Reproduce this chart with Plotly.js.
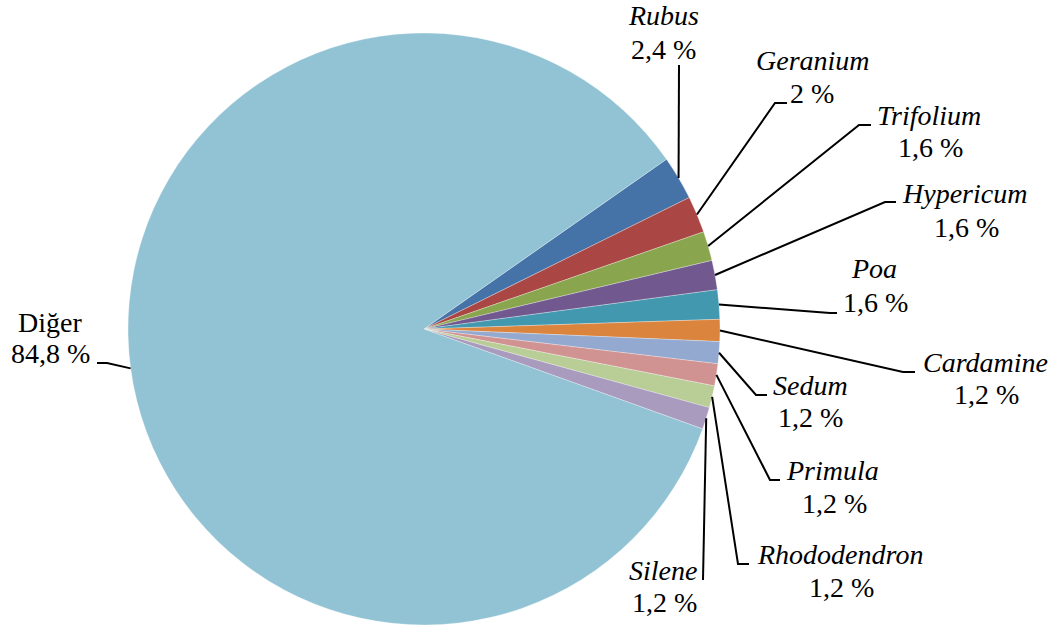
<!DOCTYPE html>
<html>
<head>
<meta charset="utf-8">
<script src="https://cdn.plot.ly/plotly-3.0.1.min.js"></script>
<style>html,body{margin:0;padding:0;background:#fff;}#chart{width:1061px;height:630px;}
#chart text.annotation-text, #chart text.annotation-text tspan{font-family:"Liberation Serif" !important;}
#fontwarm{position:absolute;left:-3000px;top:0;font-family:"Liberation Serif";font-size:28px;white-space:nowrap;}</style>
</head>
<body>
<div id="fontwarm">Diğer 84,8 % <i>Rhododendron</i></div>
<div id="chart"></div>
<script>
// ---- data ----
var labels = ["Rubus", "Geranium", "Trifolium", "Hypericum", "Poa", "Cardamine", "Sedum", "Primula", "Rhododendron", "Silene", "Diğer"];
var values = [2.4, 2, 1.6, 1.6, 1.6, 1.2, 1.2, 1.2, 1.2, 1.2, 84.8];
var italicName = [true, true, true, true, true, true, true, true, true, true, false];

// ---- style / layout (pixel positions of labels and leader elbows) ----
var colors = ["#4572A7", "#AA4643", "#89A54E", "#71588F", "#4198AF", "#DB843D", "#93A9CF", "#D19392", "#B9CD96", "#A99BBD", "#92C3D4"];
var W = 1061, H = 630;
var cx = 424, cy = 329, R = 296;
var rotation = 55;
var fontSize = 28;
var labelLayout = [
  {name: [663, 25],  val: [663, 59],  elbow: [679, 65],  end: [679, 65]},
  {name: [813, 70],  val: [812, 103], elbow: [775, 103], end: [787, 103]},
  {name: [929, 125], val: [930, 157], elbow: [859, 125], end: [871, 125]},
  {name: [964, 203], val: [966, 237], elbow: [885, 202], end: [896, 202]},
  {name: [874, 278], val: [875, 312], elbow: [830, 313], end: [837, 313]},
  {name: [985, 372], val: [986, 404], elbow: [903, 372], end: [915, 372]},
  {name: [810, 395], val: [810, 427], elbow: [756, 395], end: [767, 395]},
  {name: [832, 480], val: [834, 513], elbow: [770, 480], end: [780, 480]},
  {name: [840, 564], val: [841, 597], elbow: [738, 564], end: [749, 564]},
  {name: [663, 580], val: [664, 612], elbow: [703, 580], end: [703, 580]},
  {name: [50, 332],  val: [50, 363],  elbow: [107, 363], end: [97, 363]}
];

function toPX(x) { return x / W; }
function toPY(y) { return 1 - y / H; }

var total = values.reduce(function (a, b) { return a + b; }, 0);
var fontFamily = "Liberation Serif";

function buildLayout() {
  var annotations = [];
  var shapes = [];
  var acc = 0;
  for (var i = 0; i < values.length; i++) {
    var mid = rotation + (acc + values[i] / 2) / total * 360;
    acc += values[i];
    var a = mid * Math.PI / 180;
    var sx = cx + R * Math.sin(a);
    var sy = cy - R * Math.cos(a);
    var L = labelLayout[i];
    shapes.push({
      type: 'path', xref: 'paper', yref: 'paper',
      path: 'M ' + toPX(sx) + ',' + toPY(sy) + ' L ' + toPX(L.elbow[0]) + ',' + toPY(L.elbow[1]) + ' L ' + toPX(L.end[0]) + ',' + toPY(L.end[1]),
      line: {color: '#000000', width: 2}
    });
    var nameText = italicName[i] ? '<i>' + labels[i] + '</i>' : labels[i];
    var valText = String(values[i]).replace('.', ',') + ' %';
    annotations.push({
      xref: 'paper', yref: 'paper', x: toPX(L.name[0]), y: toPY(L.name[1] - 0.34 * fontSize),
      xanchor: 'center', yanchor: 'middle', showarrow: false, text: nameText,
      font: {family: fontFamily, size: fontSize, color: '#000000'}
    });
    annotations.push({
      xref: 'paper', yref: 'paper', x: toPX(L.val[0]), y: toPY(L.val[1] - 0.34 * fontSize),
      xanchor: 'center', yanchor: 'middle', showarrow: false, text: valText,
      font: {family: fontFamily, size: fontSize, color: '#000000'}
    });
  }
  return {
    width: W, height: H,
    margin: {l: 0, r: 0, t: 0, b: 0},
    paper_bgcolor: '#ffffff',
    plot_bgcolor: '#ffffff',
    showlegend: false,
    annotations: annotations,
    shapes: shapes
  };
}

function buildTrace() {
  return {
    type: 'pie',
    labels: labels,
    values: values,
    sort: false,
    direction: 'clockwise',
    rotation: rotation,
    textinfo: 'none',
    hoverinfo: 'label+percent',
    marker: {colors: colors, line: {color: '#ffffff', width: 0.3}},
    domain: {x: [(cx - R) / W, (cx + R) / W], y: [(H - cy - R) / H, (H - cy + R) / H]},
    showlegend: false
  };
}

function draw() {
  return Plotly.newPlot('chart', [buildTrace()], buildLayout(), {displayModeBar: false, staticPlot: true});
}

// force layout of the warm-up text so the serif faces are resolved before drawing
void document.getElementById('fontwarm').offsetWidth;
draw();
(document.fonts && document.fonts.ready ? document.fonts.ready : Promise.resolve()).then(function () {
  setTimeout(function () { Plotly.purge('chart'); draw(); }, 60);
});
</script>
</body>
</html>
